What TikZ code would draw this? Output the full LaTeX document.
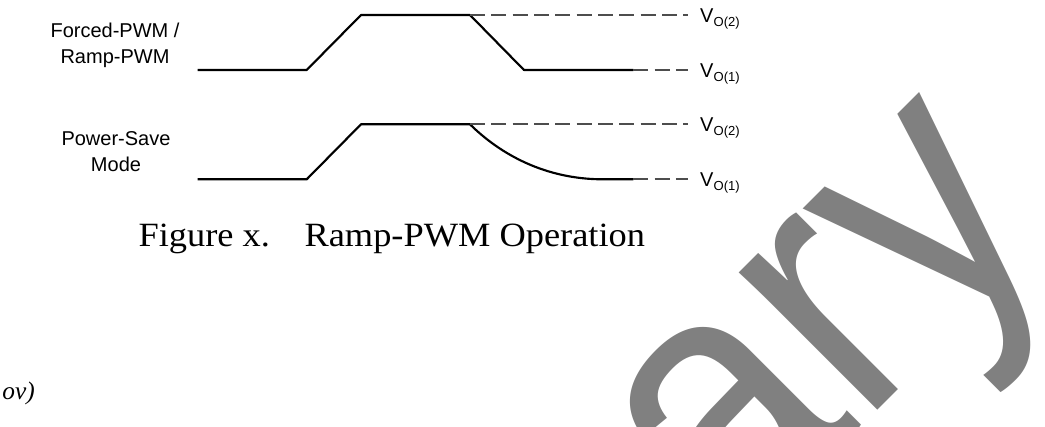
\documentclass[tikz,border=0pt]{standalone}
\usepackage{fontspec}
\usetikzlibrary{calc}
\newfontfamily\labelfont{Liberation Sans}
\newfontfamily\capfont[FakeStretch=1.07]{Liberation Serif}
\newfontfamily\notefont{Liberation Serif}
\definecolor{Wave}{HTML}{000000}
\definecolor{Level}{HTML}{4D4D4D}
\definecolor{Mark}{HTML}{808080}
\tikzset{
  wave/.style={Wave,line width=1.6pt,line join=round},
  level/.style={Level,line width=1.3pt,dash pattern=on 11.25pt off 4.75pt},
  modelbl/.style={font=\labelfont\fontsize{15}{19.5}\selectfont,align=center,inner sep=0pt},
  vlbl/.style={font=\labelfont\fontsize{15}{18}\selectfont,anchor=base west,inner xsep=9.2pt,inner ysep=0pt},
}
\newcommand{\vout}[1]{V\raisebox{-3.2pt}{\fontsize{9.8}{11}\selectfont O(#1)}}

\begin{document}
\begin{tikzpicture}[x=0.75pt,y=-0.75pt]
\useasboundingbox (0,0) rectangle (1045,426);
% watermark
\begin{scope}
\clip (0,0) rectangle (1045,426);
\node[text=Mark,font=\labelfont\fontsize{277}{277}\selectfont,rotate=45,anchor=base east,inner sep=0pt] (wm) at (1058,230) {\scalebox{0.9}[1]{Preliminary}};
\end{scope}
% mode names (base = last line)
\node[modelbl,anchor=base] (fpwm) at (115,63.3) {Forced-PWM /\\Ramp-PWM};
\node[modelbl,anchor=base] (psm) at (116,171.7) {Power-Save\\Mode};
% output levels
\node[vlbl] (vt2) at (687.7,22.1) {\vout{2}};
\node[vlbl] (vt1) at (687.7,77.1) {\vout{1}};
\node[vlbl] (vb2) at (687.7,131.4) {\vout{2}};
\node[vlbl] (vb1) at (687.7,186.4) {\vout{1}};
% forced / ramp pwm
\coordinate (t0) at (197.7,70);
\coordinate (t1) at (306.7,70);
\coordinate (t2) at (361,15);
\coordinate (t3) at (470,15);
\coordinate (t4) at (524,70);
\coordinate (t5) at (633.3,70);
\draw[wave] (t0) -- (t1) -- (t2) -- (t3) -- (t4) -- (t5);
\draw[level] (t3) -- (vt2.west |- t3);
\draw[level] (t5) -- (vt1.west |- t5);
% power save
\coordinate (b0) at (197.7,179.3);
\coordinate (b1) at (306.7,179.3);
\coordinate (b2) at (361,124.3);
\coordinate (b3) at (470,124.3);
\coordinate (b4) at (603,179.3);
\coordinate (b5) at (633.3,179.3);
\draw[wave] (b0) -- (b1) -- (b2) -- (b3) .. controls (500,154) and (545,179.3) .. (b4) -- (b5);
\draw[level] (b3) -- (vb2.west |- b3);
\draw[level] (b5) -- (vb1.west |- b5);
% caption
\node[font=\capfont\fontsize{25.5}{29}\selectfont,anchor=base west,inner sep=0pt] (figcap) at (138.3,246.7) {Figure x.\hspace{26pt}Ramp-PWM Operation};
\node[font=\notefont\itshape\fontsize{19}{22}\selectfont,anchor=base east,inner sep=0pt] (ovnote) at (35,399) {ov)};
\end{tikzpicture}
\end{document}
